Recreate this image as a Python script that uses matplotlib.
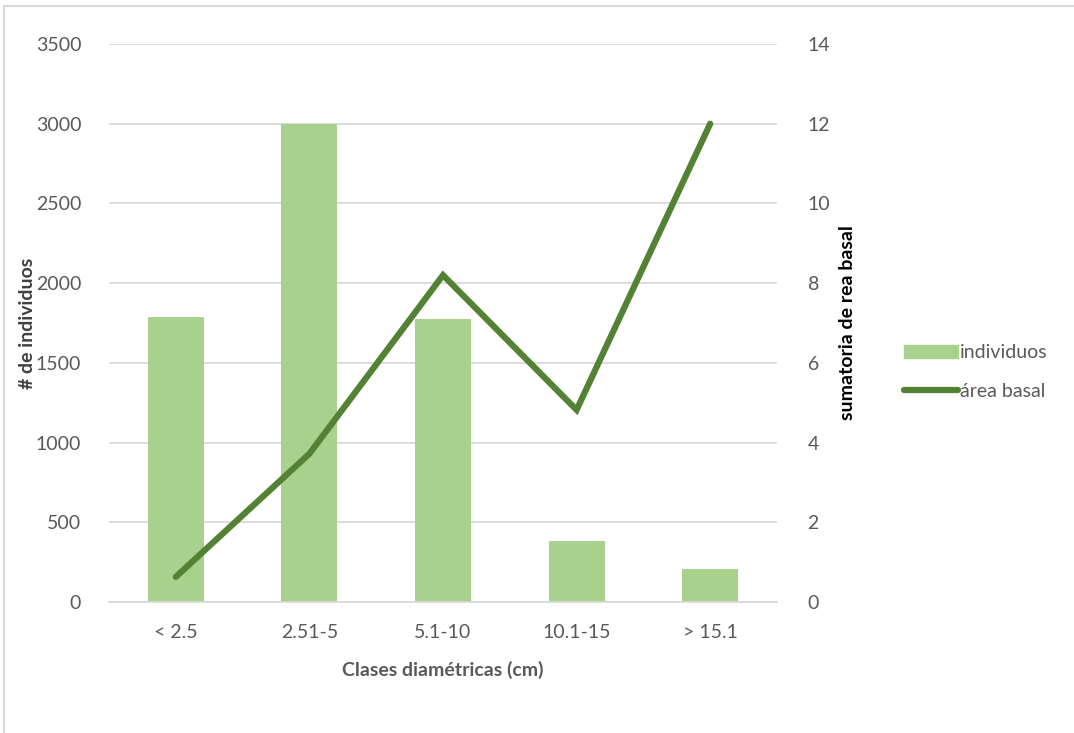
import matplotlib
matplotlib.use("Agg")
import matplotlib.pyplot as plt
from matplotlib.patches import Rectangle
from matplotlib.lines import Line2D

categories = ["< 2.5", "2.51-5", "5.1-10", "10.1-15", "> 15.1"]
individuos = [1790, 3000, 1775, 385, 205]
area_basal = [0.63, 3.72, 8.2, 4.82, 12.0]

plt.rcParams['font.family'] = ['Lato', 'DejaVu Sans']

W, H = 1074, 733
fig = plt.figure(figsize=(W/100, H/100), dpi=100)

# outer chart border (extends past right/bottom of image)
fig.patches.append(Rectangle((4/W, -0.1), 1.2, (H-6)/H + 0.1, transform=fig.transFigure,
                             fill=False, edgecolor='#d9d9d9', linewidth=1.5))

ax = fig.add_axes([109/W, 1-602/H, (777-109)/W, (602-44)/H])
ax2 = ax.twinx()

bar_color = '#a9d18e'
line_color = '#548235'
tick_color = '#595959'

x = list(range(len(categories)))
ax.bar(x, individuos, width=0.42, color=bar_color, zorder=2)
ax2.plot(x, area_basal, color=line_color, linewidth=4.5, solid_capstyle='round',
         solid_joinstyle='miter', zorder=3)

ax.set_xlim(-0.5, len(categories) - 0.5)
ax.set_ylim(0, 3500)
ax.set_yticks(range(0, 3501, 500))
ax2.set_ylim(0, 14)
ax2.set_yticks(range(0, 15, 2))

ax.grid(axis='y', color='#d9d9d9', linewidth=1.3, zorder=0)
ax.set_axisbelow(True)
for a in (ax, ax2):
    for s in a.spines.values():
        s.set_visible(False)
ax.spines['bottom'].set_visible(True)
ax.spines['bottom'].set_color('#d9d9d9')
ax.spines['bottom'].set_linewidth(1.3)

fs = 14
ax.set_xticks(x)
ax.set_xticklabels(categories)
ax.tick_params(axis='both', length=0, labelsize=fs, colors=tick_color)
ax.tick_params(axis='y', pad=20)
ax2.tick_params(axis='y', length=0, labelsize=fs, colors=tick_color, pad=22)
ax.tick_params(axis='x', pad=16)

ax.set_xlabel("Clases diamétricas (cm)", fontsize=fs, fontweight='bold', color=tick_color, labelpad=14)
ax.set_ylabel("# de individuos", fontsize=fs, fontweight='bold', color='#404040')
ax.yaxis.set_label_coords((36-109)/668, 0.5)
ax2.set_ylabel("sumatoria de rea basal", fontsize=fs, fontweight='bold', color='black')
ax2.yaxis.set_label_coords((839-109)/668, 0.5)

handles = [Rectangle((0, 0), 1, 1, color=bar_color),
           Line2D([0], [0], color=line_color, linewidth=4.5, solid_capstyle='round')]
leg = fig.legend(handles, ["individuos", "área basal"], loc='center left',
                 bbox_to_anchor=(886/W, 1-372/H), frameon=False, fontsize=fs,
                 handlelength=2.8, handletextpad=0.1, labelspacing=1.1, labelcolor=tick_color)

fig.savefig("out.png", dpi=100)
